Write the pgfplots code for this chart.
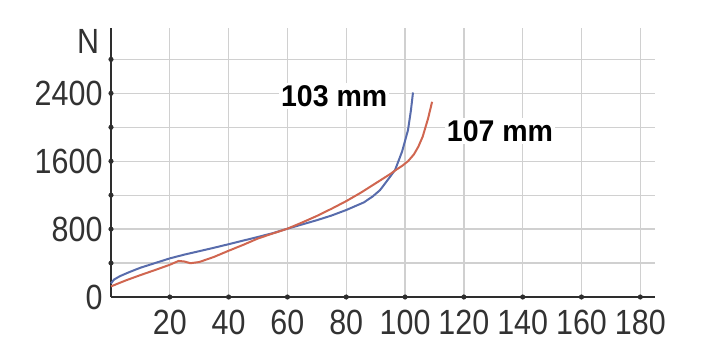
\documentclass[border=0pt]{standalone}
\usepackage{pgfplots}
\pgfplotsset{compat=1.18}
\usepackage{fontspec}
\setmainfont{Liberation Sans}[FakeStretch=0.87]
\newfontfamily\labfont{Liberation Sans}[FakeStretch=0.95]
\definecolor{blueline}{RGB}{88,108,172}
\definecolor{redline}{RGB}{208,102,80}
\definecolor{gridgray}{RGB}{208,208,208}
\definecolor{ticktext}{RGB}{50,50,50}
\begin{document}
\begin{tikzpicture}
\path[use as bounding box] (-111pt,-67pt) rectangle (601pt,297pt);
\begin{axis}[
  at={(0pt,0pt)}, anchor=south west,
  scale only axis, width=544pt, height=269pt,
  xmin=0, xmax=185, ymin=0, ymax=3170,
  axis x line=bottom, axis y line=left,
  axis line style={-, line width=2.2pt, color=black!82},
  xtick={20,40,60,80,100,120,140,160,180},
  xticklabels={20,40,60,80,100,120,140,160,180},
  ytick={0,400,800,1200,1600,2000,2400,2800},
  yticklabels={0,,800,,1600,,2400,},
  grid=major, major grid style={gridgray, line width=1.3pt},
  major tick length=0pt,
  tick label style={font=\fontsize{35}{36}\selectfont, text=ticktext},
  xticklabel style={yshift=-10pt},
  yticklabel style={xshift=-5pt},
  clip=false,
]
\addplot[blueline, line width=2pt] coordinates {
(0,160) (1,205) (3,245) (6,290) (10,345) (15,400) (20,455) (25,500) (30,540)
(35,580) (40,622) (45,665) (50,708) (55,752) (60,805) (65,855) (70,905)
(75,960) (80,1025) (86,1115) (89,1185) (91.5,1260) (94,1375) (96.6,1496)
(99,1715) (101,1967) (102,2200) (102.7,2410)
};
\addplot[redline, line width=2pt] coordinates {
(0,125) (5,195) (10,258) (15,318) (20,380) (23,425) (25,418) (27,398)
(30,412) (35,472) (40,545) (45,615) (50,690) (55,748) (60,805) (65,878)
(70,955) (75,1040) (80,1130) (85,1230) (90,1340) (95,1450) (97,1500)
(99,1545) (101,1600) (103,1680) (104.5,1770) (106,1890) (107.8,2100) (109.2,2300)
};
\addplot[only marks, mark=*, mark size=2.3pt, black!82] coordinates {
(20,0) (40,0) (60,0) (80,0) (100,0) (120,0) (140,0) (160,0) (180,0)
(0,400) (0,800) (0,1200) (0,1600) (0,2000) (0,2400) (0,2800)
};
\node[font=\labfont\bfseries\fontsize{30}{32}\selectfont, fill=white, inner sep=2pt] at (axis cs:75.9,2368) {103 mm};
\node[font=\labfont\bfseries\fontsize{30}{32}\selectfont, fill=white, inner sep=2pt] at (axis cs:132.3,1955) {107 mm};
\node[font=\fontsize{35}{36}\selectfont, text=ticktext] at (axis cs:-7.8,3015) {N};
\end{axis}
\end{tikzpicture}
\end{document}
